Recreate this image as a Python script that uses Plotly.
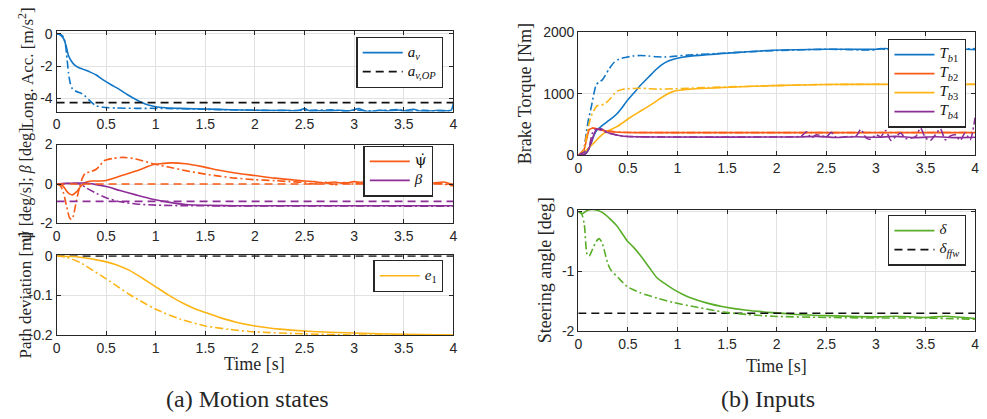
import plotly.graph_objects as go

W, H = 987, 419

# ---------------- data: time [s] / value pairs ----------------
# longitudinal acceleration [m/s^2]
t_acc = [0, 0.03, 0.07, 0.1, 0.12, 0.15, 0.18, 0.22, 0.27, 0.34, 0.4, 0.47, 0.55, 0.64, 0.72, 0.8,
         0.9, 1.0, 1.1, 1.25, 1.5, 1.75, 2.0, 2.2, 2.3, 2.4, 2.45, 2.5, 2.55, 2.65, 2.75, 2.85, 2.95,
         3.05, 3.1, 3.15, 3.25, 3.35, 3.45, 3.5, 3.6, 3.65, 3.75, 3.85, 3.95, 3.98, 4.0]
acc = [0, -0.05, -0.3, -0.85, -1.35, -1.7, -1.92, -2.08, -2.2, -2.37, -2.55, -2.85, -3.15, -3.46,
       -3.78, -4.06, -4.35, -4.5, -4.56, -4.6, -4.64, -4.69, -4.72, -4.73, -4.72, -4.75, -4.72,
       -4.62, -4.76, -4.75, -4.76, -4.72, -4.76, -4.62, -4.75, -4.8, -4.72, -4.76, -4.7, -4.76,
       -4.66, -4.75, -4.78, -4.72, -4.76, -4.7, -4.3]
t_acc_pred = [0, 0.04, 0.07, 0.09, 0.1, 0.12, 0.14, 0.16, 0.2, 0.25, 0.28, 0.34, 0.4, 0.5, 0.6,
              0.8, 1.0, 1.5, 2.0, 2.3, 2.5, 2.8, 2.9, 3.0, 3.2, 3.45, 3.55, 3.7, 3.85, 4.0]
acc_pred = [0, -0.05, -0.2, -0.7, -1.2, -2.4, -3.1, -3.4, -3.56, -3.68, -3.8, -4.16, -4.45, -4.55,
            -4.58, -4.6, -4.6, -4.66, -4.72, -4.74, -4.73, -4.7, -4.78, -4.72, -4.76, -4.68, -4.78,
            -4.72, -4.78, -4.72]
acc_op = -4.25

# yaw rate [deg/s]
t_yaw = [0, 0.04, 0.07, 0.1, 0.13, 0.16, 0.2, 0.25, 0.3, 0.35, 0.4, 0.5, 0.6, 0.7, 0.8, 0.9, 0.97,
         1.05, 1.15, 1.3, 1.47, 1.64, 1.8, 2.0, 2.2, 2.4, 2.5, 2.6, 2.7, 2.8, 2.9, 3.0, 3.1, 3.2,
         3.3, 3.4, 3.5, 3.6, 3.7, 3.8, 3.9, 4.0]
yaw = [0, -0.03, -0.13, -0.35, -0.5, -0.55, -0.4, -0.08, 0.1, 0.15, 0.15, 0.18, 0.33, 0.5, 0.66,
       0.85, 0.98, 1.03, 1.07, 1.03, 0.88, 0.7, 0.56, 0.43, 0.3, 0.2, 0.15, 0.12, 0.05, 0.1, 0.03,
       0.12, 0.05, 0.1, 0.02, 0.08, 0.12, 0.03, 0.1, 0.05, 0.1, -0.05]
t_yaw_pred = [0, 0.04, 0.07, 0.1, 0.13, 0.15, 0.17, 0.2, 0.23, 0.26, 0.29, 0.34, 0.4, 0.44, 0.48,
              0.57, 0.67, 0.8, 0.97, 1.14, 1.3, 1.5, 1.64, 1.8, 2.0, 2.2, 2.35, 2.5, 2.6, 2.7, 2.8,
              2.9, 3.0, 3.1, 3.2, 3.3, 3.4, 3.5, 3.6, 3.7, 3.8, 3.9, 4.0]
yaw_pred = [0, -0.1, -0.45, -1.1, -1.7, -1.8, -1.6, -0.85, -0.2, 0.3, 0.55, 0.62, 0.75, 0.95, 1.18,
            1.3, 1.35, 1.27, 1.03, 0.85, 0.68, 0.5, 0.4, 0.3, 0.22, 0.17, 0.12, 0.08, 0.0, 0.1,
            -0.05, 0.08, 0.0, 0.1, -0.02, 0.06, 0.08, -0.03, 0.1, -0.05, 0.05, 0.0, -0.1]
yaw_ref = 0.0

# side slip angle [deg]
t_beta = [0, 0.1, 0.2, 0.3, 0.4, 0.5, 0.64, 0.8, 0.97, 1.14, 1.3, 1.5, 1.8, 4.0]
beta = [0, 0.03, 0.05, 0.05, -0.03, -0.13, -0.33, -0.55, -0.77, -0.93, -1.04, -1.08, -1.1, -1.1]
t_beta_pred = [0, 0.17, 0.24, 0.3, 0.4, 0.5, 0.64, 0.8, 1.0, 1.3, 4.0]
beta_pred = [0, 0.03, 0.0, -0.2, -0.47, -0.7, -0.9, -1.01, -1.07, -1.1, -1.12]
beta_ref = -0.88

# lateral path deviation [m]
t_e1 = [0, 0.2, 0.47, 0.6, 0.74, 0.87, 1.0, 1.13, 1.27, 1.4, 1.5, 1.65, 1.8, 2.0, 2.25, 2.5, 3.0,
        3.5, 4.0]
e1 = [0, -0.002, -0.013, -0.022, -0.037, -0.057, -0.078, -0.099, -0.119, -0.134, -0.143, -0.156,
      -0.167, -0.177, -0.185, -0.19, -0.195, -0.198, -0.2]
t_e1_pred = [0, 0.1, 0.24, 0.37, 0.5, 0.62, 0.74, 0.87, 1.0, 1.25, 1.5, 1.75, 2.0, 2.5, 3.0, 4.0]
e1_pred = [0, -0.003, -0.017, -0.037, -0.058, -0.078, -0.098, -0.117, -0.135, -0.16, -0.177,
           -0.186, -0.192, -0.197, -0.2, -0.2]
e1_ref = 0.0

# brake torques [Nm]
t_tb1 = [0, 0.05, 0.1, 0.13, 0.16, 0.19, 0.24, 0.29, 0.34, 0.39, 0.44, 0.49, 0.56, 0.63, 0.71,
         0.79, 0.87, 0.96, 1.05, 1.13, 1.3, 1.46, 1.7, 1.96, 2.5, 3.0, 3.1, 3.2, 3.5, 3.9, 4.0]
tb1 = [0, 5, 80, 200, 330, 411, 480, 542, 600, 672, 770, 880, 1010, 1140, 1270, 1400, 1500, 1557,
       1590, 1609, 1632, 1651, 1680, 1703, 1720, 1720, 1732, 1715, 1725, 1720, 1715]
t_tb1_pred = [0, 0.05, 0.08, 0.1, 0.13, 0.16, 0.18, 0.21, 0.24, 0.27, 0.31, 0.36, 0.41, 0.46, 0.55,
              0.63, 0.71, 0.79, 0.87, 0.96, 1.1, 1.5, 2.0, 2.5, 3.0, 3.05, 3.1, 4.0]
tb1_pred = [0, 60, 359, 560, 776, 1020, 1140, 1190, 1219, 1290, 1400, 1505, 1560, 1583, 1610, 1620,
            1610, 1598, 1595, 1605, 1625, 1660, 1700, 1720, 1712, 1732, 1715, 1730]

t_tb2 = [0, 0.04, 0.06, 0.09, 0.11, 0.14, 0.19, 0.24, 0.29, 0.37, 0.46, 0.6, 4.0]
tb2 = [0, 30, 98, 300, 411, 437, 427, 405, 390, 375, 368, 366, 366]
t_tb2_pred = [0, 0.05, 0.08, 0.11, 0.15, 0.2, 0.3, 0.45, 0.6, 4.0]
tb2_pred = [0, 80, 300, 430, 440, 420, 390, 372, 368, 368]

t_tb3 = [0, 0.05, 0.1, 0.16, 0.21, 0.26, 0.32, 0.39, 0.46, 0.53, 0.61, 0.69, 0.78, 0.86, 0.96,
         1.05, 1.13, 1.3, 1.46, 1.7, 1.96, 2.5, 3.0, 4.0]
tb3 = [0, 40, 110, 203, 290, 359, 410, 463, 540, 620, 700, 776, 870, 958, 1036, 1060, 1073, 1088,
       1099, 1115, 1130, 1148, 1150, 1150]
t_tb3_pred = [0, 0.05, 0.09, 0.11, 0.14, 0.17, 0.19, 0.23, 0.26, 0.3, 0.33, 0.36, 0.39, 0.44, 0.49,
              0.63, 0.71, 0.79, 0.96, 1.3, 2.0, 2.5, 4.0]
tb3_pred = [0, 60, 359, 520, 672, 760, 802, 815, 828, 880, 932, 990, 1036, 1065, 1078, 1088, 1080,
            1073, 1078, 1099, 1130, 1148, 1152]

t_tb4 = [0, 0.08, 0.13, 0.16, 0.18, 0.23, 0.29, 0.37, 0.46, 0.63, 0.8, 2.2, 2.4, 2.6, 2.8, 3.0,
         3.2, 3.4, 3.6, 3.8, 4.0]
tb4 = [0, 30, 203, 350, 411, 427, 370, 330, 307, 297, 295, 295, 305, 288, 300, 290, 305, 285,
       300, 285, 290]
t_tb4_pred = [0, 0.1, 0.14, 0.17, 0.22, 0.3, 0.45, 0.6, 2.2, 2.25, 2.3, 2.35, 2.4, 2.5, 2.55, 2.6,
              2.7, 2.8, 2.85, 2.9, 2.95, 3.0, 3.05, 3.1, 3.15, 3.2, 3.25, 3.3, 3.4, 3.45, 3.5, 3.55,
              3.6, 3.65, 3.7, 3.75, 3.8, 3.85, 3.9, 3.95, 4.0]
tb4_pred = [0, 100, 350, 420, 415, 360, 310, 300, 300, 310, 380, 280, 330, 300, 370, 290, 300, 310,
            420, 280, 260, 330, 300, 400, 240, 300, 360, 270, 300, 440, 280, 240, 330, 430, 250,
            310, 330, 240, 360, 250, 610]

# steering angle [deg]
t_delta = [0, 0.02, 0.04, 0.07, 0.1, 0.14, 0.2, 0.26, 0.32, 0.39, 0.44, 0.49, 0.56, 0.63, 0.71,
           0.79, 0.87, 0.96, 1.05, 1.13, 1.3, 1.46, 1.7, 1.96, 2.2, 2.5, 3.0, 3.2, 3.5, 3.7, 4.0]
delta = [0, -0.02, -0.03, 0.0, 0.03, 0.04, 0.02, -0.03, -0.12, -0.24, -0.36, -0.48, -0.6, -0.74,
         -0.92, -1.1, -1.2, -1.3, -1.38, -1.44, -1.53, -1.59, -1.65, -1.69, -1.72, -1.74, -1.76,
         -1.75, -1.77, -1.75, -1.79]
t_delta_pred = [0, 0.03, 0.06, 0.09, 0.11, 0.14, 0.18, 0.21, 0.24, 0.27, 0.3, 0.33, 0.4, 0.49,
                0.56, 0.63, 0.8, 0.96, 1.2, 1.46, 1.7, 1.96, 2.5, 3.0, 3.5, 4.0]
delta_pred = [0, -0.02, -0.21, -0.72, -0.74, -0.64, -0.5, -0.45, -0.52, -0.7, -0.88, -0.98, -1.1,
              -1.25, -1.31, -1.36, -1.45, -1.52, -1.6, -1.68, -1.72, -1.75, -1.77, -1.78, -1.78,
              -1.8]
delta_ffw = -1.70

T_SPAN = [0, 4]
x_ticks = [0, 0.5, 1, 1.5, 2, 2.5, 3, 3.5, 4]
x_ticktext = ["0", "0.5", "1", "1.5", "2", "2.5", "3", "3.5", "4"]

# ---------------- styling ----------------
BLUE = "#1176c6"
ORANGE = "#f95a16"
YELLOW = "#fdb414"
PURPLE = "#8c2d98"
GREEN = "#59ad28"
BLACK = "#111111"
AXC = "#262626"
SERIF = "Liberation Serif, Times New Roman, serif"
SANS = "Liberation Sans, Arial, sans-serif"
LW = 1.6
DASH = "8px,5px"
DASHDOT = "8px,3px,2px,3px"


def px(x):
    return x / W


def py(y):
    return 1 - y / H


def ltx(s):
    # legend entry text at its own size (legend rows stay compact)
    return '<span style="font-size:15px">' + s + "</span>"


PSI_DOT = '<span style="font-family:DejaVu Serif">ψ̇</span>'

fig = go.Figure()


def add(t, v, color, ax, dash="solid", name=None, legend=None, shape="spline"):
    fig.add_trace(go.Scatter(
        x=t, y=v, mode="lines", xaxis="x" + ax, yaxis="y" + ax,
        line=dict(color=color, width=LW, dash=dash, shape=shape, smoothing=0.7),
        name=ltx(name) if name else "", showlegend=legend is not None,
        legend=legend or "legend", hoverinfo="skip"))


# (a) motion states
add(t_acc, acc, BLUE, "", name="<i>a<sub>v</sub></i>", legend="legend")
add(T_SPAN, [acc_op, acc_op], BLACK, "", dash=DASH, name="<i>a<sub>v,OP</sub></i>", legend="legend", shape="linear")
add(t_acc_pred, acc_pred, BLUE, "", dash=DASHDOT)

add(t_yaw, yaw, ORANGE, "2", name=PSI_DOT, legend="legend2")
add(t_beta, beta, PURPLE, "2", name="<i>β</i>", legend="legend2")
add(t_yaw_pred, yaw_pred, ORANGE, "2", dash=DASHDOT)
add(t_beta_pred, beta_pred, PURPLE, "2", dash=DASHDOT)
add(T_SPAN, [yaw_ref, yaw_ref], ORANGE, "2", dash=DASH, shape="linear")
add(T_SPAN, [beta_ref, beta_ref], PURPLE, "2", dash=DASH, shape="linear")

add(T_SPAN, [e1_ref, e1_ref], BLACK, "3", dash=DASH, shape="linear")
add(t_e1, e1, YELLOW, "3", name="<i>e</i><sub>1</sub>", legend="legend3")
add(t_e1_pred, e1_pred, YELLOW, "3", dash=DASHDOT)

# (b) inputs
add(t_tb1, tb1, BLUE, "4", name="<i>T<sub>b</sub></i><sub>1</sub>", legend="legend4")
add(t_tb2, tb2, ORANGE, "4", name="<i>T<sub>b</sub></i><sub>2</sub>", legend="legend4")
add(t_tb3, tb3, YELLOW, "4", name="<i>T<sub>b</sub></i><sub>3</sub>", legend="legend4")
add(t_tb4, tb4, PURPLE, "4", name="<i>T<sub>b</sub></i><sub>4</sub>", legend="legend4")
add(t_tb1_pred, tb1_pred, BLUE, "4", dash=DASHDOT)
add(t_tb2_pred, tb2_pred, ORANGE, "4", dash=DASHDOT)
add(t_tb3_pred, tb3_pred, YELLOW, "4", dash=DASHDOT)
add(t_tb4_pred, tb4_pred, PURPLE, "4", dash=DASHDOT)

add(t_delta, delta, GREEN, "5", name="<i>δ</i>", legend="legend5")
add(T_SPAN, [delta_ffw, delta_ffw], BLACK, "5", dash=DASH, name="<i>δ<sub>ffw</sub></i>", legend="legend5", shape="linear")
add(t_delta_pred, delta_pred, GREEN, "5", dash=DASHDOT)

TICKFONT = dict(family=SANS, size=14, color=AXC)


def xaxis(x0, x1, anchor):
    return dict(domain=[px(x0), px(x1)], anchor=anchor, range=[0, 4],
                tickvals=x_ticks, ticktext=x_ticktext, ticks="inside", ticklen=4,
                tickcolor=AXC, showline=True, linecolor=AXC, linewidth=1.2, mirror="ticks",
                showgrid=True, gridcolor="#e2e2e2", gridwidth=1.3, zeroline=False,
                tickfont=TICKFONT)


def yaxis(y_top, y_bot, anchor, rng, vals, texts):
    return dict(domain=[py(y_bot), py(y_top)], anchor=anchor, range=rng,
                tickvals=vals, ticktext=texts, ticks="inside", ticklen=4,
                tickcolor=AXC, showline=True, linecolor=AXC, linewidth=1.2, mirror="ticks",
                showgrid=True, gridcolor="#e2e2e2", gridwidth=1.3, zeroline=False,
                tickfont=TICKFONT)


LX0, LX1 = 53, 453
RX0, RX1 = 579, 979


def legend(right, top):
    return dict(x=px(right), y=py(top), xanchor="right", yanchor="top",
                bgcolor="white", bordercolor=AXC, borderwidth=1.3,
                font=dict(family=SERIF, size=10, color=BLACK),
                itemwidth=40, tracegroupgap=0)


fig.update_layout(
    width=W, height=H, margin=dict(l=0, r=0, t=0, b=0),
    paper_bgcolor="white", plot_bgcolor="white",
    xaxis=xaxis(LX0, LX1, "y"),
    yaxis=yaxis(24.3, 107.7, "x", [-4.8, 0.14], [-4, -2, 0], ["-4", "-2", "0"]),
    xaxis2=xaxis(LX0, LX1, "y2"),
    yaxis2=yaxis(142, 224, "x2", [-2, 2], [-2, 0, 2], ["-2", "0", "2"]),
    xaxis3=xaxis(LX0, LX1, "y3"),
    yaxis3=yaxis(257, 340, "x3", [-0.2, 0.002], [-0.2, -0.1, 0], ["-0.2", "-0.1", "0"]),
    xaxis4=xaxis(RX0, RX1, "y4"),
    yaxis4=yaxis(25, 153, "x4", [0, 2000], [0, 1000, 2000], ["0", "1000", "2000"]),
    xaxis5=xaxis(RX0, RX1, "y5"),
    yaxis5=yaxis(210, 336, "x5", [-2, 0.03], [-2, -1, 0], ["-2", "-1", "0"]),
    legend=legend(443, 30),
    legend2=legend(433, 143),
    legend3=legend(443, 262),
    legend4=legend(970, 32),
    legend5=legend(970, 215),
)

labels = [
    ("Long. Acc. [m/s<sup>2</sup>]", 22, 62, -90, 17),
    (PSI_DOT + " [deg/s]; <i>β</i> [deg]", 22, 184, -90, 16),
    ("Path deviation [m]", 22, 298, -90, 17),
    ("Brake Torque [Nm]", 525, 89, -90, 18),
    ("Steering angle [deg]", 545, 273, -90, 18),
    ("Time [s]", 253, 370, 0, 18),
    ("Time [s]", 779, 372, 0, 18),
    ("(a) Motion states", 245, 407, 0, 24),
    ("(b) Inputs", 770, 407, 0, 24),
]
for text, x, y, ang, size in labels:
    fig.add_annotation(text=text, x=px(x), y=py(y), xref="paper", yref="paper",
                       xanchor="center", yanchor="middle", textangle=ang, showarrow=False,
                       font=dict(family=SERIF, size=size, color=AXC))

fig.write_html("out.html")
